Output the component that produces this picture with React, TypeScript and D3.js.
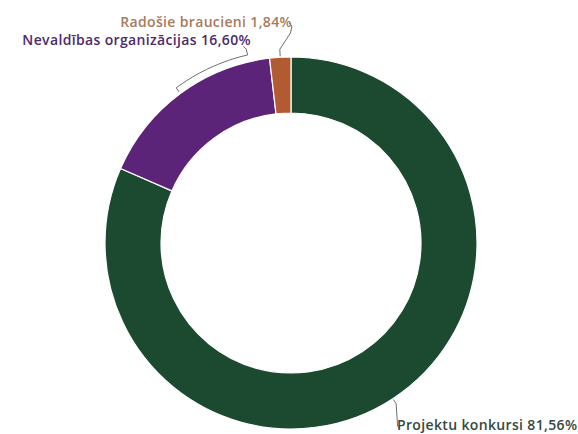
import React from "react";
import * as d3 from "d3";

const categories = ["Projektu konkursi", "Nevaldības organizācijas", "Radošie braucieni"];
const values = [81.56, 16.6, 1.84];
const valueLabels = ["81,56%", "16,60%", "1,84%"];
const colors = ["#1c4a30", "#5c2479", "#b25a32"];
const labelColors = ["#33493e", "#4e2a6c", "#a87a5c"];

const W = 578;
const H = 434;
const cx = 291;
const cy = 243;
const R = 186;
const r0 = 130;

function pol(angle: number, rad: number): [number, number] {
  return [cx + rad * Math.sin(angle), cy - rad * Math.cos(angle)];
}

export default function App() {
  const pie = d3.pie<number>().sort(null).value((d) => d).startAngle(0).endAngle(2 * Math.PI);
  const arcs = pie(values);
  const arcGen = d3.arc<d3.PieArcDatum<number>>().innerRadius(r0).outerRadius(R);
  const deg = Math.PI / 180;
  const line = d3.line();

  // Projektu konkursi connector
  const a0 = (arcs[0].startAngle + arcs[0].endAngle) / 2;
  const p0a = pol(a0, R + 1);
  const p0b = pol(a0, R + 6);
  const lab0: [number, number] = [397, 430];
  const conn0 = line([p0a, p0b, [p0b[0] + 1.5, lab0[1] - 4], [lab0[0] + 2, lab0[1] - 2]]);

  // Nevaldības connector (bracket along arc)
  const a1 = (arcs[1].startAngle + arcs[1].endAngle) / 2;
  const a1end = 347 * deg;
  const lab1: [number, number] = [251, 45];
  const br: [number, number][] = [pol(a1, R + 2)];
  const steps = 20;
  for (let i = 0; i <= steps; i++) {
    const a = a1 + ((a1end - a1) * i) / steps;
    br.push(pol(a, R + 7));
  }
  const e1 = pol(a1end, R + 13);
  br.push(e1);
  br.push([e1[0] - 3, e1[1] - 3]);
  const conn1 = line(br);

  // Radošie connector
  const a2 = (arcs[2].startAngle + arcs[2].endAngle) / 2;
  const lab2: [number, number] = [292, 27];
  const p2a = pol(a2, R + 1);
  const p2b = pol(a2, R + 8);
  const conn2 = line([p2a, p2b, [lab2[0] - 1.5, lab2[1] + 6], [lab2[0], lab2[1] - 1], [lab2[0] - 3, lab2[1] - 4]]);

  const font = "'Open Sans', Roboto, sans-serif";

  return (
    <svg width={W} height={H} style={{ position: "absolute", left: 0, top: 0, background: "#fff" }}>
      <g>
        {arcs.map((a, i) => (
          <path key={categories[i]} d={arcGen(a) || ""} transform={`translate(${cx},${cy})`} fill={colors[i]} stroke="#fff" strokeWidth={1.2} />
        ))}
      </g>
      <g fill="none" stroke="#6e6e6e" strokeWidth={1}>
        <path d={conn0 || ""} />
        <path d={conn1 || ""} />
        <path d={conn2 || ""} />
      </g>
      <g fontFamily={font} fontWeight={600} fontSize={14} letterSpacing={0.35}>
        <text x={lab0[0]} y={lab0[1]} fill={labelColors[0]} textAnchor="start">
          {`${categories[0]} ${valueLabels[0]}`}
        </text>
        <text x={lab1[0]} y={lab1[1]} fill={labelColors[1]} textAnchor="end">
          {`${categories[1]} ${valueLabels[1]}`}
        </text>
        <text x={lab2[0]} y={lab2[1]} fill={labelColors[2]} textAnchor="end">
          {`${categories[2]} ${valueLabels[2]}`}
        </text>
      </g>
    </svg>
  );
}
